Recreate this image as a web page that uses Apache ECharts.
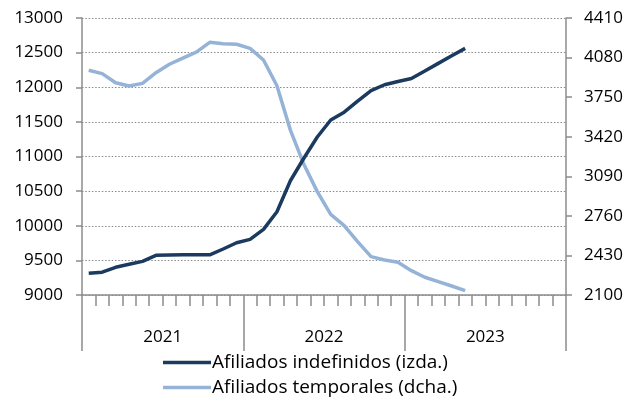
<!DOCTYPE html>
<html>
<head>
<meta charset="utf-8">
<script src="https://cdn.jsdelivr.net/npm/echarts@6/dist/echarts.min.js"></script>
<style>html,body{margin:0;padding:0;background:#fff}#c{width:637px;height:406px}</style>
</head>
<body>
<div id="c"></div>
<script>
const months = ['ene-21','feb-21','mar-21','abr-21','may-21','jun-21','jul-21','ago-21','sep-21','oct-21','nov-21','dic-21',
  'ene-22','feb-22','mar-22','abr-22','may-22','jun-22','jul-22','ago-22','sep-22','oct-22','nov-22','dic-22',
  'ene-23','feb-23','mar-23','abr-23','may-23','jun-23','jul-23','ago-23','sep-23','oct-23','nov-23','dic-23'];
const years = ['2021','2022','2023'];
const indefinidos = [9315,9330,9400,9443,9486,9573,9578,9580,9580,9580,9664,9755,
  9804,9948,10203,10650,10975,11282,11527,11640,11800,11952,12036,12084,12127,12234,12345,12455,12561];
const temporales = [3974,3946,3870,3843,3865,3954,4024,4076,4126,4207,4196,4191,
  4157,4060,3845,3475,3190,2962,2773,2678,2545,2420,2392,2373,2303,2248,2211,2175,2136];
const leftTicks = {min: 9000, max: 13000, interval: 500};
const rightTicks = [2100,2430,2760,3090,3420,3750,4080,4410];
const names = ['Afiliados indefinidos (izda.)','Afiliados temporales (dcha.)'];

const FONT = '"Open Sans", "Noto Sans", sans-serif';
const axisGray = '#8c8c8c';
const plain = v => String(v);
const chart = echarts.init(document.getElementById('c'), null, {renderer: 'canvas'});
chart.setOption({
  animation: false,
  backgroundColor: '#fff',
  textStyle: {fontFamily: FONT},
  grid: {left: 82, right: 71, top: 18, bottom: 111, containLabel: false},
  legend: {
    orient: 'vertical', left: 158, top: 348, itemGap: 6,
    itemWidth: 48, itemHeight: 3.5, icon: 'rect',
    textStyle: {fontFamily: FONT, fontSize: 19, lineHeight: 19, color: '#000', padding: [0,0,0,-4]},
    data: names
  },
  xAxis: [
    {type: 'category', data: months, boundaryGap: true, position: 'bottom',
     axisLine: {lineStyle: {color: axisGray, width: 1.5}},
     axisTick: {show: true, interval: 0, length: 11, lineStyle: {color: axisGray, width: 1.5}},
     axisLabel: {show: false}, splitLine: {show: false}},
    {type: 'category', data: years, boundaryGap: true, position: 'bottom',
     axisLine: {show: false},
     axisTick: {show: true, interval: 0, length: 56, lineStyle: {color: axisGray, width: 1.5}},
     axisLabel: {show: true, margin: 34, fontSize: 17, color: '#000', fontFamily: FONT},
     splitLine: {show: false}}
  ],
  yAxis: [
    {type: 'value', position: 'left', min: leftTicks.min, max: leftTicks.max, interval: leftTicks.interval,
     axisLine: {show: true, lineStyle: {color: axisGray, width: 1.5}},
     axisTick: {show: true, length: 6, lineStyle: {color: axisGray, width: 1.5}},
     axisLabel: {fontSize: 17, color: '#000', margin: 19, fontFamily: FONT, formatter: plain},
     splitLine: {show: true, lineStyle: {color: '#8a8a8a', width: 1.2, type: [1.5, 1.8]}}},
    {type: 'value', position: 'right', min: rightTicks[0], max: rightTicks[rightTicks.length-1],
     axisLine: {show: true, lineStyle: {color: axisGray, width: 1.5}},
     axisTick: {show: true, length: 6, customValues: rightTicks, lineStyle: {color: axisGray, width: 1.5}},
     axisLabel: {fontSize: 17, color: '#000', margin: 18, customValues: rightTicks, fontFamily: FONT, formatter: plain},
     splitLine: {show: false}}
  ],
  series: [
    {name: names[0], type: 'line', xAxisIndex: 0, yAxisIndex: 0, data: indefinidos,
     symbol: 'none', lineStyle: {color: '#1b3a5f', width: 3.5}, itemStyle: {color: '#1b3a5f'}, z: 3},
    {name: names[1], type: 'line', xAxisIndex: 0, yAxisIndex: 1, data: temporales,
     symbol: 'none', lineStyle: {color: '#95b3d7', width: 3.5}, itemStyle: {color: '#95b3d7'}, z: 2}
  ]
});
</script>
</body>
</html>
